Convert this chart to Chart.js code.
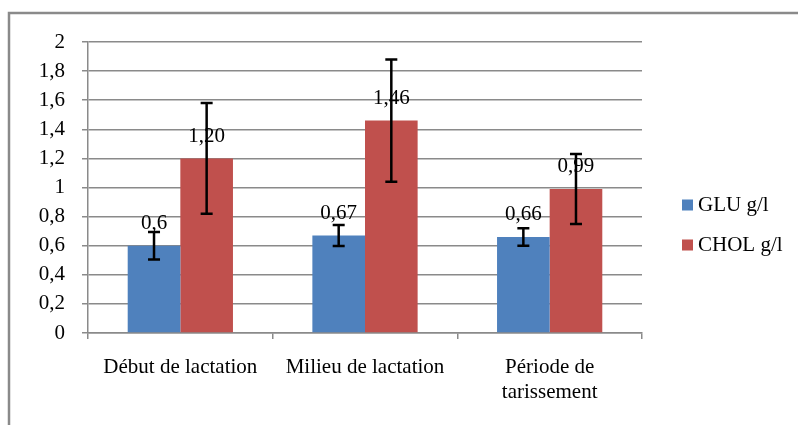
<!DOCTYPE html>
<html>
<head>
<meta charset="utf-8">
<script src="https://cdn.jsdelivr.net/npm/chart.js@4/dist/chart.umd.min.js"></script>
<style>
  html, body { margin: 0; padding: 0; background: #fff; }
  canvas { display: block; }
</style>
</head>
<body>
<canvas id="chart" width="798" height="425"></canvas>
<script>
// Chart data
var categories = ['Début de lactation', 'Milieu de lactation', ['Période de', 'tarissement']];
var gluValues = [0.6, 0.67, 0.66];
var cholValues = [1.20, 1.46, 0.99];
var gluErrors = [0.095, 0.072, 0.06];
var cholErrors = [0.38, 0.42, 0.24];
var gluLabels = ['0,6', '0,67', '0,66'];
var cholLabels = ['1,20', '1,46', '0,99'];
var yTicks = [0, 0.2, 0.4, 0.6, 0.8, 1, 1.2, 1.4, 1.6, 1.8, 2];

var FONT = 'Liberation Serif';
var GRID = '#8a8a8a';

// outer frame (top + left edges only, the rest is cropped)
var framePlugin = {
    id: 'frame',
    beforeDraw: function(chart) {
        var ctx = chart.ctx;
        ctx.save();
        ctx.fillStyle = '#fff';
        ctx.fillRect(0, 0, chart.width, chart.height);
        ctx.strokeStyle = GRID;
        ctx.lineWidth = 2.5;
        ctx.beginPath();
        ctx.moveTo(chart.width, 13);
        ctx.lineTo(9, 13);
        ctx.lineTo(9, chart.height);
        ctx.stroke();
        ctx.restore();
    }
};

// value labels and error bars
var errorPlugin = {
    id: 'errors',
    afterDatasetsDraw: function(chart) {
        var ctx = chart.ctx;
        var y = chart.scales.y;
        ctx.save();
        chart.data.datasets.forEach(function(ds, di) {
            var meta = chart.getDatasetMeta(di);
            meta.data.forEach(function(bar, i) {
                ctx.fillStyle = '#000';
                ctx.font = '21px "' + FONT + '"';
                ctx.textAlign = 'center';
                ctx.textBaseline = 'middle';
                ctx.fillText(ds.valueLabels[i], bar.x, bar.y - 22);
            });
        });
        chart.data.datasets.forEach(function(ds, di) {
            var meta = chart.getDatasetMeta(di);
            meta.data.forEach(function(bar, i) {
                var v = ds.data[i], e = ds.errors[i];
                var top = y.getPixelForValue(v + e);
                var bot = y.getPixelForValue(v - e);
                ctx.strokeStyle = '#000';
                ctx.lineWidth = 2.5;
                ctx.beginPath();
                ctx.moveTo(bar.x, top);
                ctx.lineTo(bar.x, bot);
                ctx.moveTo(bar.x - 6, top);
                ctx.lineTo(bar.x + 6, top);
                ctx.moveTo(bar.x - 6, bot);
                ctx.lineTo(bar.x + 6, bot);
                ctx.stroke();
            });
        });
        ctx.restore();
    }
};

// legend on the right
var legendPlugin = {
    id: 'sideLegend',
    afterDraw: function(chart) {
        var ctx = chart.ctx;
        ctx.save();
        ctx.font = '21px "' + FONT + '"';
        ctx.textBaseline = 'middle';
        ctx.textAlign = 'left';
        chart.data.datasets.forEach(function(ds, di) {
            var cy = 205 + di * 40;
            ctx.fillStyle = ds.backgroundColor;
            ctx.fillRect(682, cy - 5.5, 11, 11);
            ctx.fillStyle = '#000';
            ctx.fillText(ds.label, 698, cy);
        });
        ctx.restore();
    }
};

new Chart(document.getElementById('chart'), {
    type: 'bar',
    data: {
        labels: categories,
        datasets: [{
            label: 'GLU g/l',
            data: gluValues,
            errors: gluErrors,
            valueLabels: gluLabels,
            backgroundColor: '#4F81BD',
            borderWidth: 0
        }, {
            label: 'CHOL g/l',
            data: cholValues,
            errors: cholErrors,
            valueLabels: cholLabels,
            backgroundColor: '#C0504D',
            borderWidth: 0
        }]
    },
    options: {
        responsive: false,
        animation: false,
        events: [],
        layout: { padding: { left: 10, top: 42, right: 156, bottom: 0 } },
        datasets: { bar: { categoryPercentage: 0.57, barPercentage: 1 } },
        plugins: {
            legend: { display: false },
            tooltip: { enabled: false }
        },
        scales: {
            x: {
                grid: { display: true, drawOnChartArea: false, color: GRID, lineWidth: 1.5, tickLength: 6, offset: true },
                border: { display: true, color: GRID, width: 1.5 },
                ticks: { color: '#000', font: { family: FONT, size: 21, lineHeight: 1.2 }, padding: 16, maxRotation: 0, autoSkip: false },
                afterFit: function(scale) { scale.height = 92; }
            },
            y: {
                min: 0,
                max: 2,
                afterBuildTicks: function(scale) {
                    scale.ticks = yTicks.map(function(v) { return { value: v }; });
                },
                grid: { color: GRID, lineWidth: 1.5, tickLength: 6 },
                border: { display: true, color: GRID, width: 1.5 },
                ticks: {
                    color: '#000',
                    font: { family: FONT, size: 21 },
                    padding: 17,
                    callback: function(v) { return String(Math.round(v * 10) / 10).replace('.', ','); }
                },
                afterFit: function(scale) { scale.width = 78; }
            }
        }
    },
    plugins: [framePlugin, errorPlugin, legendPlugin]
});
</script>
</body>
</html>
